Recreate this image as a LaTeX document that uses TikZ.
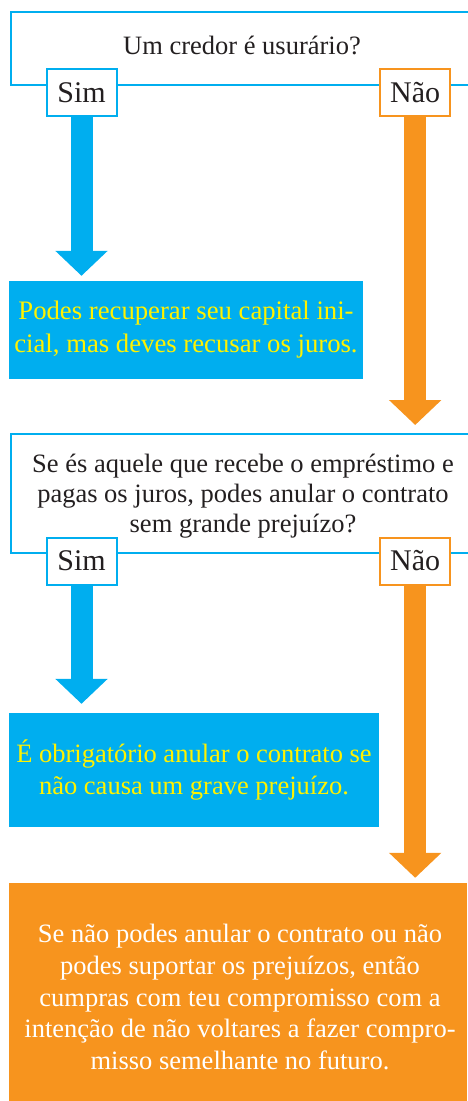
\documentclass[tikz,border=0pt]{standalone}
\usepackage{fontspec}
\setmainfont{Liberation Serif}
\usetikzlibrary{arrows.meta}
\definecolor{cy}{HTML}{00AEEF}
\definecolor{og}{HTML}{F7941E}
\definecolor{yl}{HTML}{FFF200}
\definecolor{tx}{HTML}{231F20}
\begin{document}
\begin{tikzpicture}[x=1pt,y=-1pt,
  frameline/.style={draw=cy,line width=2pt},
  qtext/.style={text=tx,align=center,inner sep=0pt},
  simbox/.style={draw=cy,fill=white,line width=2pt,minimum width=70pt,minimum height=47pt,inner sep=0pt,text=tx,font=\fontsize{30}{36}\selectfont},
  naobox/.style={simbox,draw=og},
  bluebox/.style={fill=cy,text=yl,inner sep=0pt,align=center,font=\fontsize{26.7}{33}\selectfont},
  orangebox/.style={fill=og,text=white,inner sep=0pt,align=center,font=\fontsize{26.5}{31.8}\selectfont},
  bluearrow/.style={draw=cy,line width=22pt,-{Triangle[width=51pt,length=25pt]}},
  orangearrow/.style={draw=og,line width=22pt,-{Triangle[width=51pt,length=25pt]}}
]
\path[use as bounding box] (0,0) rectangle (467,1101);

% first question
\coordinate (f1a) at (468,12);
\coordinate (f1b) at (11,12);
\coordinate (f1c) at (11,85);
\coordinate (f1d) at (468,85);
\draw[frameline] (f1a) -- (f1b) -- (f1c) -- (f1d);
\node[qtext,font=\fontsize{26.5}{30}\selectfont] (q1) at (242,45) {Um credor é usurário?};
\node[simbox] (sim1) at (81.5,92.5) {Sim};
\node[naobox] (nao1) at (415.2,92.5) {Não};

% first blue answer
\node[bluebox,minimum width=354pt,minimum height=98pt] (ans1) at (186,330)
  {Podes recuperar seu capital ini-\\cial, mas deves recusar os juros.};

% second question
\coordinate (f2a) at (468,433.5);
\coordinate (f2b) at (11,433.5);
\coordinate (f2c) at (11,553);
\coordinate (f2d) at (468,553);
\draw[frameline] (f2a) -- (f2b) -- (f2c) -- (f2d);
\node[qtext,font=\fontsize{26.5}{30}\selectfont] (q2) at (243,496)
  {Se és aquele que recebe o empréstimo e\\pagas os juros, podes anular o contrato\\sem grande prejuízo?};
\node[simbox] (sim2) at (81.5,561) {Sim};
\node[naobox] (nao2) at (415.2,561) {Não};

% second blue answer
\node[bluebox,minimum width=370pt,minimum height=114pt,font=\fontsize{26.5}{32}\selectfont] (ans2) at (194,770)
  {É obrigatório anular o contrato se\\não causa um grave prejuízo.};

% final orange box
\node[orangebox,minimum width=458pt,minimum height=218pt] (fin) at (238,992)
  {\phantom{}};
\node[orangebox,fill=none] (fintext) at (240,997)
  {Se não podes anular o contrato ou não\\podes suportar os prejuízos, então\\cumpras com teu compromisso com a\\intenção de não voltares a fazer compro-\\misso semelhante no futuro.};

% arrows
\draw[bluearrow,shorten >=5pt] (sim1.south) -- (sim1.south |- ans1.north);
\draw[orangearrow,shorten >=8.5pt] (nao1.south) -- (nao1.south |- f2b);
\draw[bluearrow,shorten >=9pt] (sim2.south) -- (sim2.south |- ans2.north);
\draw[orangearrow,shorten >=5pt] (nao2.south) -- (nao2.south |- fin.north);
\end{tikzpicture}
\end{document}
